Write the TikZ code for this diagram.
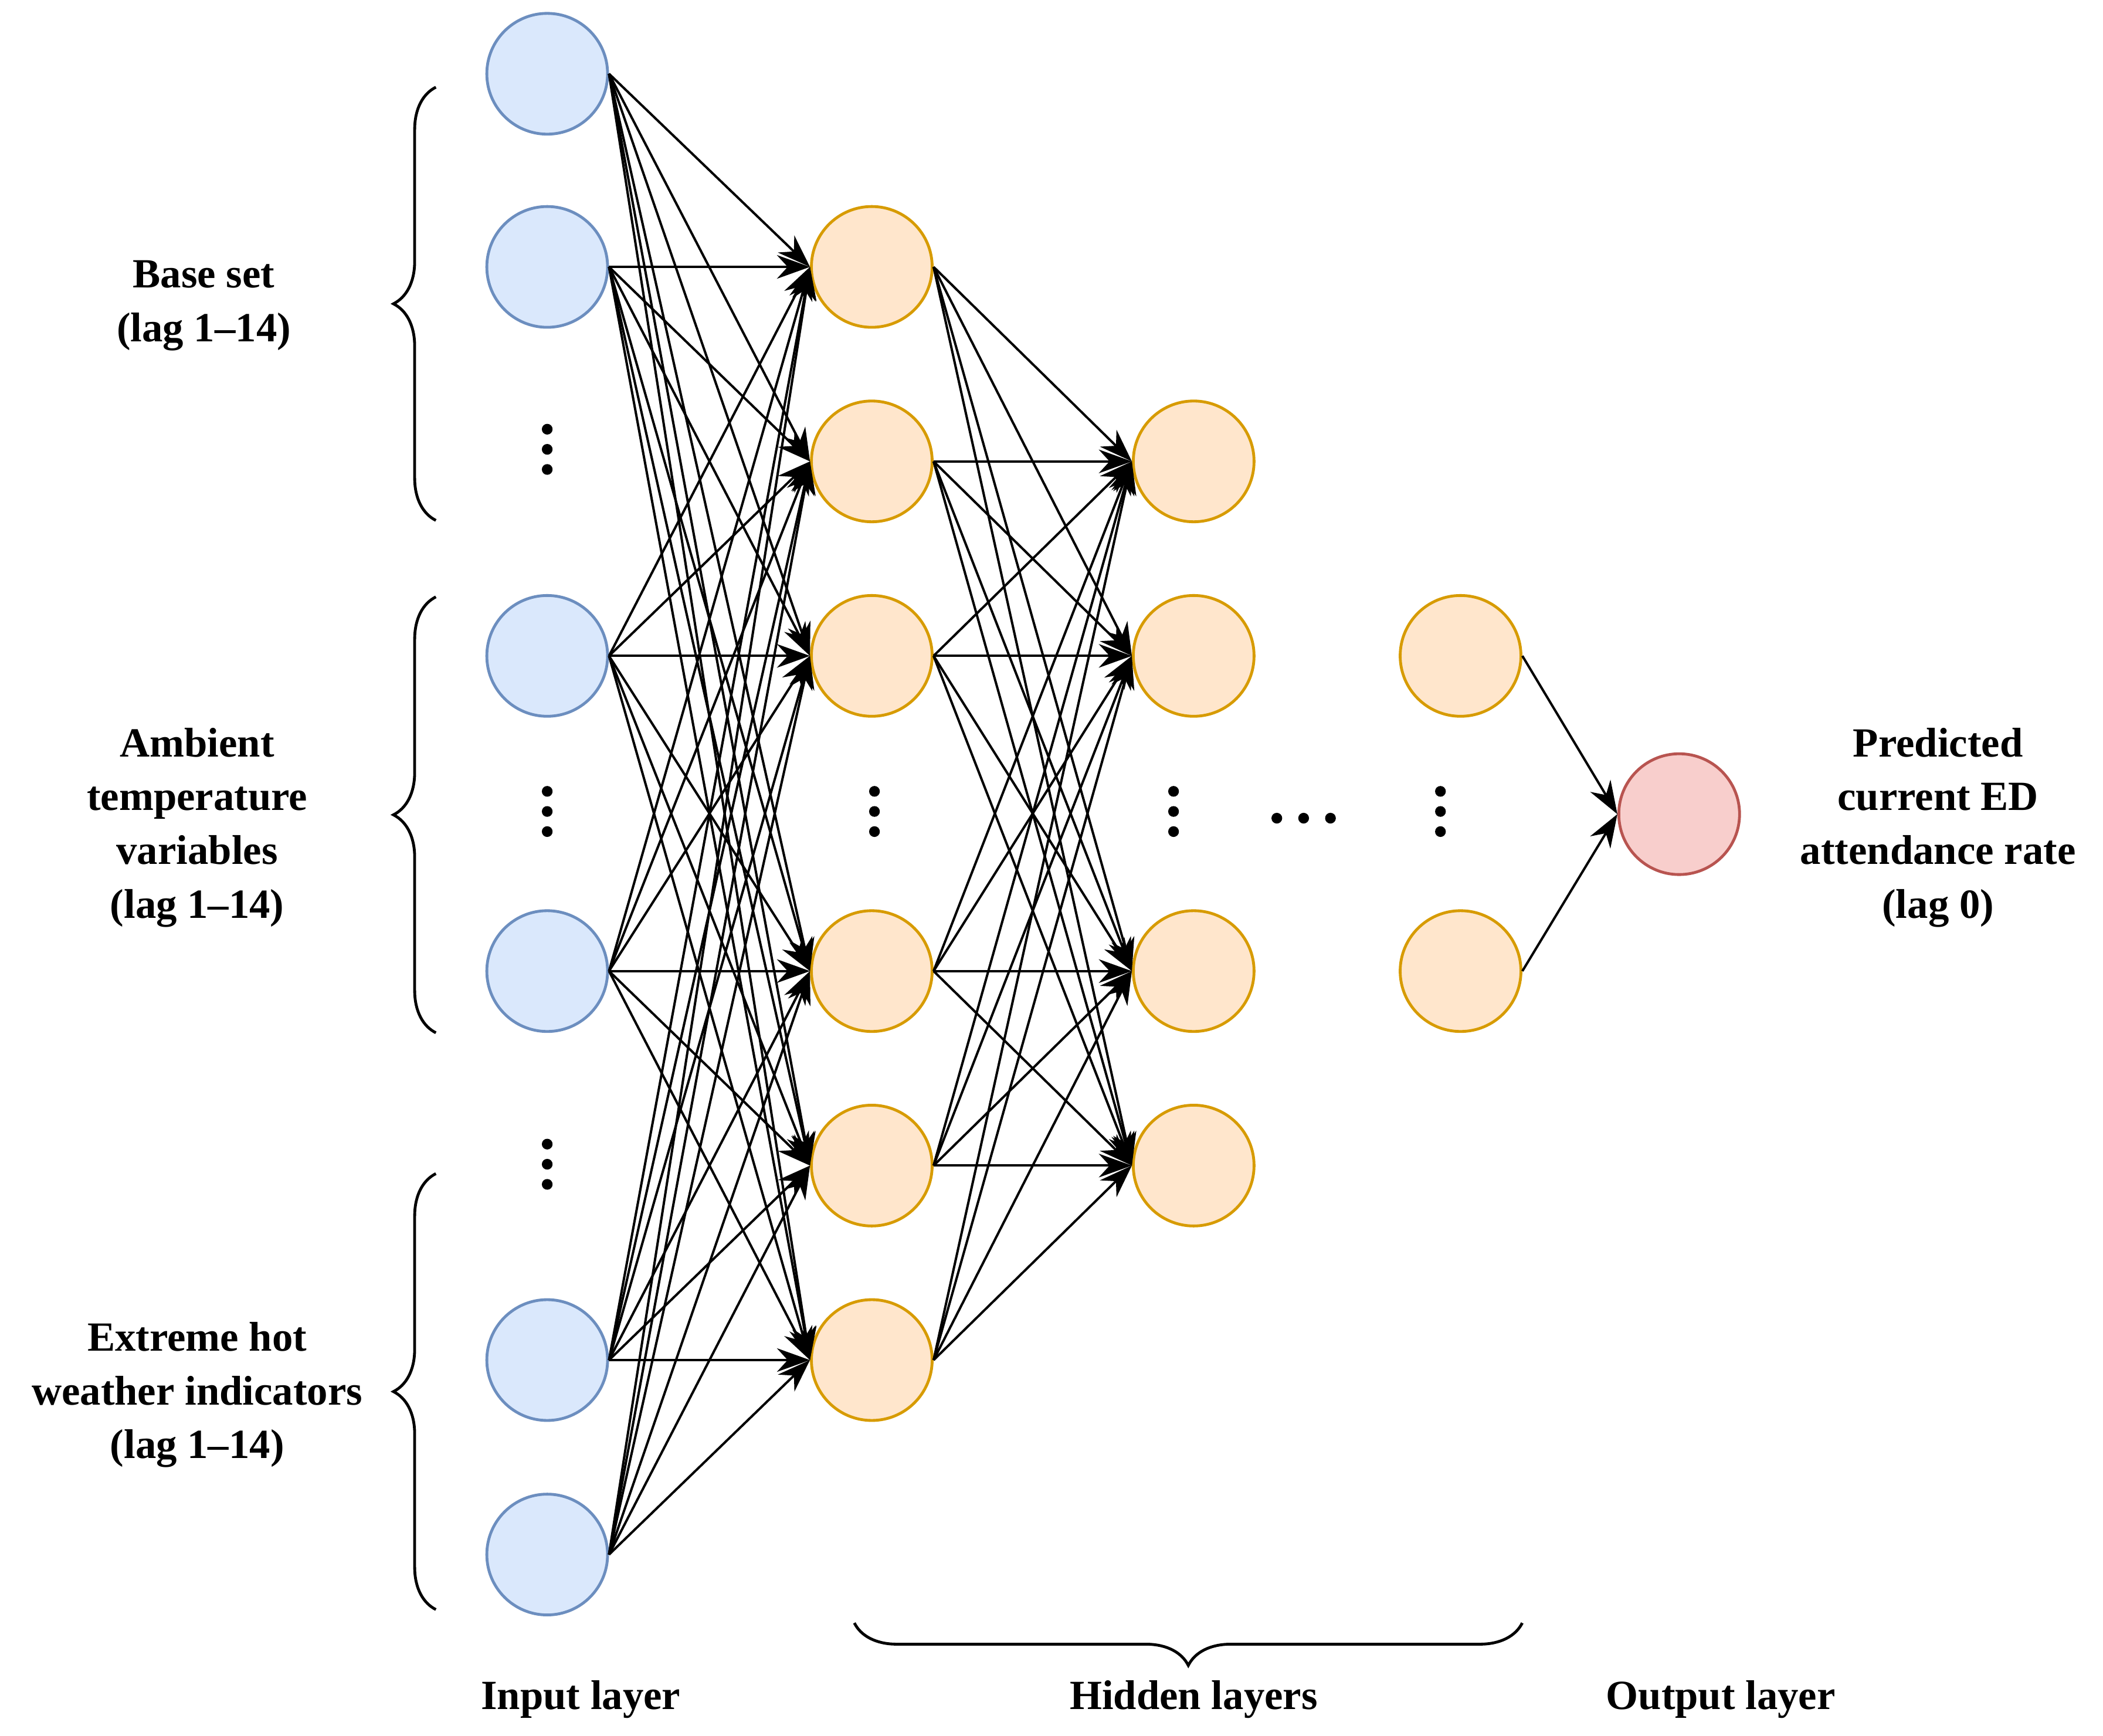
\documentclass[tikz,border=0pt]{standalone}
\usepackage{fontspec}
\setmainfont{Liberation Serif}
\usetikzlibrary{decorations.pathreplacing,arrows.meta}
\begin{document}
\begin{tikzpicture}[x=0.01cm,y=-0.01cm,
 neu/.style={circle,minimum size=0.9cm,inner sep=0pt,line width=0.6pt},
 inp/.style={neu,fill={rgb,255:red,218;green,232;blue,252},draw={rgb,255:red,108;green,142;blue,191}},
 hid/.style={neu,fill={rgb,255:red,255;green,230;blue,204},draw={rgb,255:red,215;green,155;blue,0}},
 outn/.style={neu,fill={rgb,255:red,248;green,206;blue,204},draw={rgb,255:red,184;green,84;blue,80}},
 edge/.style={-{Stealth[length=7pt,width=5pt]},line width=0.5pt},
 lbl/.style={font=\fontsize{8.8}{11.4}\selectfont\bfseries,align=center},
 br/.style={decorate,decoration={brace,amplitude=9pt},line width=0.6pt},
 dot/.style={circle,fill,inner sep=0pt,minimum size=0.08cm}]
\useasboundingbox (0,0) rectangle (1568,1294);
\foreach \n/\y in {1/55,2/199,3/489,4/724,5/1014,6/1159} \node[inp] (i\n) at (408,\y) {};
\foreach \n/\y in {1/199,2/344,3/489,4/724,5/869,6/1014} \node[hid] (a\n) at (650,\y) {};
\foreach \n/\y in {1/344,2/489,3/724,4/869} \node[hid] (b\n) at (890,\y) {};
\node[hid] (c1) at (1089,489) {};
\node[hid] (c2) at (1089,724) {};
\node[outn] (o) at (1252,607) {};
\foreach \i in {1,...,6}\foreach \j in {1,...,6} \draw[edge] (i\i.east) -- (a\j.west);
\foreach \i in {1,...,6}\foreach \j in {1,...,4} \draw[edge] (a\i.east) -- (b\j.west);
\draw[edge] (c1.east) -- (o.west);
\draw[edge] (c2.east) -- (o.west);
\foreach \x/\y in {408/335,408/605,408/868,652/605,875/605,1074/605}
 \foreach \d in {-15,0,15} \node[dot] at (\x,\y+\d) {};
\foreach \d in {-20,0,20} \node[dot] at (972+\d,610) {};
\draw[br] (325,388) -- (325,65);
\draw[br] (325,770) -- (325,445);
\draw[br] (325,1200) -- (325,875);
\draw[br] (1135,1210) -- (637,1210);
\node[lbl] (l1) at (152,228) {Base set\\(lag 1–14)};
\node[lbl] (l2) at (147,617) {Ambient\\temperature\\variables\\(lag 1–14)};
\node[lbl] (l3) at (147,1040) {Extreme hot\\weather indicators\\(lag 1–14)};
\node[lbl] (l4) at (1445,617) {Predicted\\current ED\\attendance rate\\(lag 0)};
\node[lbl] (t1) at (433,1267) {Input layer};
\node[lbl] (t2) at (890,1267) {Hidden layers};
\node[lbl] (t3) at (1283,1267) {Output layer};
\end{tikzpicture}
\end{document}
